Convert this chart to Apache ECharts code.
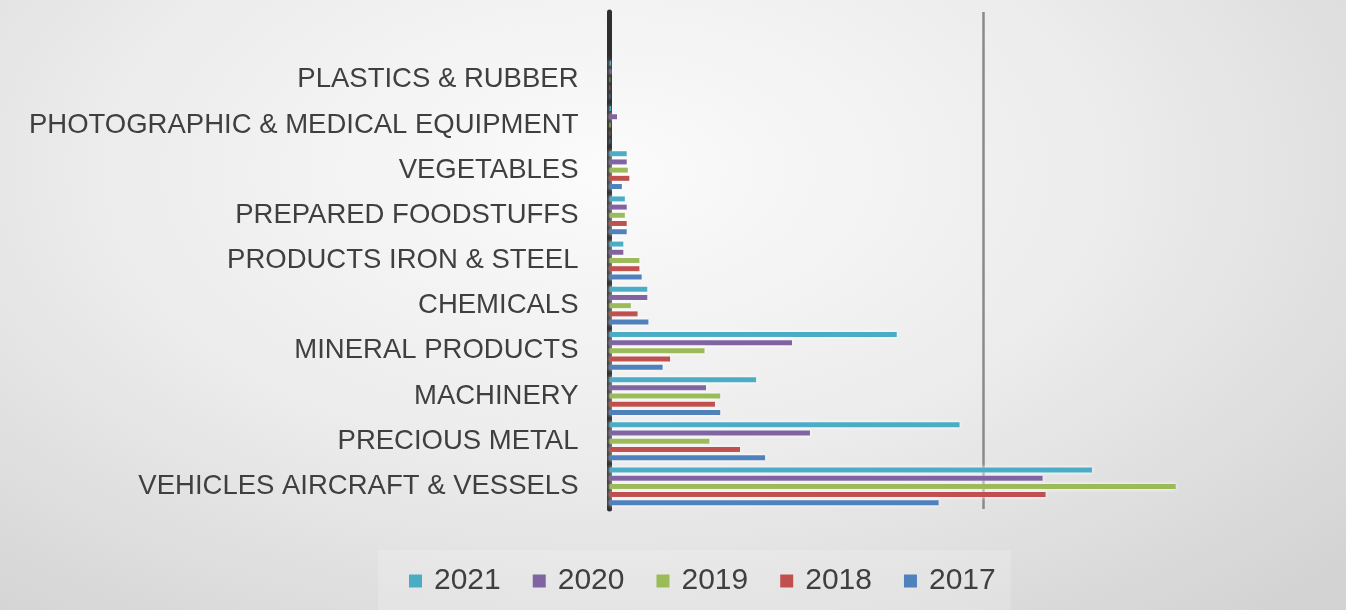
<!DOCTYPE html>
<html>
<head>
<meta charset="utf-8">
<script src="https://cdn.jsdelivr.net/npm/echarts@6/dist/echarts.min.js"></script>
<style>
  html, body { margin: 0; padding: 0; width: 1346px; height: 610px; overflow: hidden; }
  body { background: radial-gradient(ellipse 75% 95% at 45% 28%, #fbfbfb 0%, #ececec 50%, #d3d3d3 100%); }
  #chart { width: 1346px; height: 610px; }
</style>
</head>
<body>
<div id="chart"></div>
<script>
// Categories from bottom to top (last one is the blank top slot)
var categories = [
  'VEHICLES AIRCRAFT & VESSELS',
  'PRECIOUS METAL',
  'MACHINERY',
  'MINERAL PRODUCTS',
  'CHEMICALS',
  'PRODUCTS IRON & STEEL',
  'PREPARED FOODSTUFFS',
  'VEGETABLES',
  'PHOTOGRAPHIC & MEDICAL EQUIPMENT',
  'PLASTICS & RUBBER',
  ''
];
var years = ['2021', '2020', '2019', '2018', '2017'];
var values2021 = [6450, 4680, 1960, 3840, 505, 185, 205, 230, 20, 20, null];
var values2020 = [5790, 2680, 1290, 2440, 505, 185, 230, 230, 100, 25, null];
var values2019 = [7570, 1335, 1480, 1270, 285, 400, 205, 245, 15, 10, null];
var values2018 = [5830, 1745, 1410, 810, 375, 400, 230, 265, 10, 10, null];
var values2017 = [4400, 2080, 1480, 710, 520, 430, 230, 165, 10, 10, null];
var seriesValues = [values2021, values2020, values2019, values2018, values2017];
var colors = ['#4bacc6', '#8064a2', '#9bbb59', '#c0504d', '#4f81bd'];

var chart = echarts.init(document.getElementById('chart'), null, { renderer: 'canvas' });

var series = years.map(function (y, i) {
  return {
    name: y,
    type: 'bar',
    data: seriesValues[i],
    barWidth: 5,
    barGap: '64%',
    itemStyle: {
      color: colors[i],
      shadowColor: 'rgba(255,255,255,0.95)',
      shadowBlur: 4
    },
    emphasis: { disabled: true }
  };
});

chart.setOption({
  animation: false,
  backgroundColor: 'transparent',
  grid: { left: 609.5, top: 12, width: 673.2, height: 497, outerBoundsMode: 'none' },
  xAxis: {
    type: 'value',
    min: 0,
    max: 9000,
    interval: 5000,
    axisLine: { show: false },
    axisTick: { show: false },
    axisLabel: { show: false },
    splitLine: {
      show: true,
      showMinLine: false,
      showMaxLine: false,
      lineStyle: { color: '#8a8a8a', width: 2.5 }
    }
  },
  yAxis: {
    type: 'category',
    data: categories,
    axisLine: { show: true, onZero: false, lineStyle: { color: '#2e2e2e', width: 5 } },
    axisTick: { show: false },
    axisLabel: {
      margin: 31,
      fontFamily: 'Liberation Sans',
      fontSize: 27.5,
      color: '#3f3f3f'
    },
    splitLine: { show: false }
  },
  legend: {
    data: years,
    left: 378,
    top: 550,
    padding: [16, 15, 30, 31],
    backgroundColor: 'rgba(255,255,255,0.18)',
    itemWidth: 13,
    itemHeight: 13,
    itemGap: 32,
    icon: 'rect',
    textStyle: {
      fontFamily: 'Liberation Sans',
      fontSize: 30,
      color: '#3f3f3f',
      padding: [0, 0, 0, 7]
    }
  },
  series: series
});
</script>
</body>
</html>
